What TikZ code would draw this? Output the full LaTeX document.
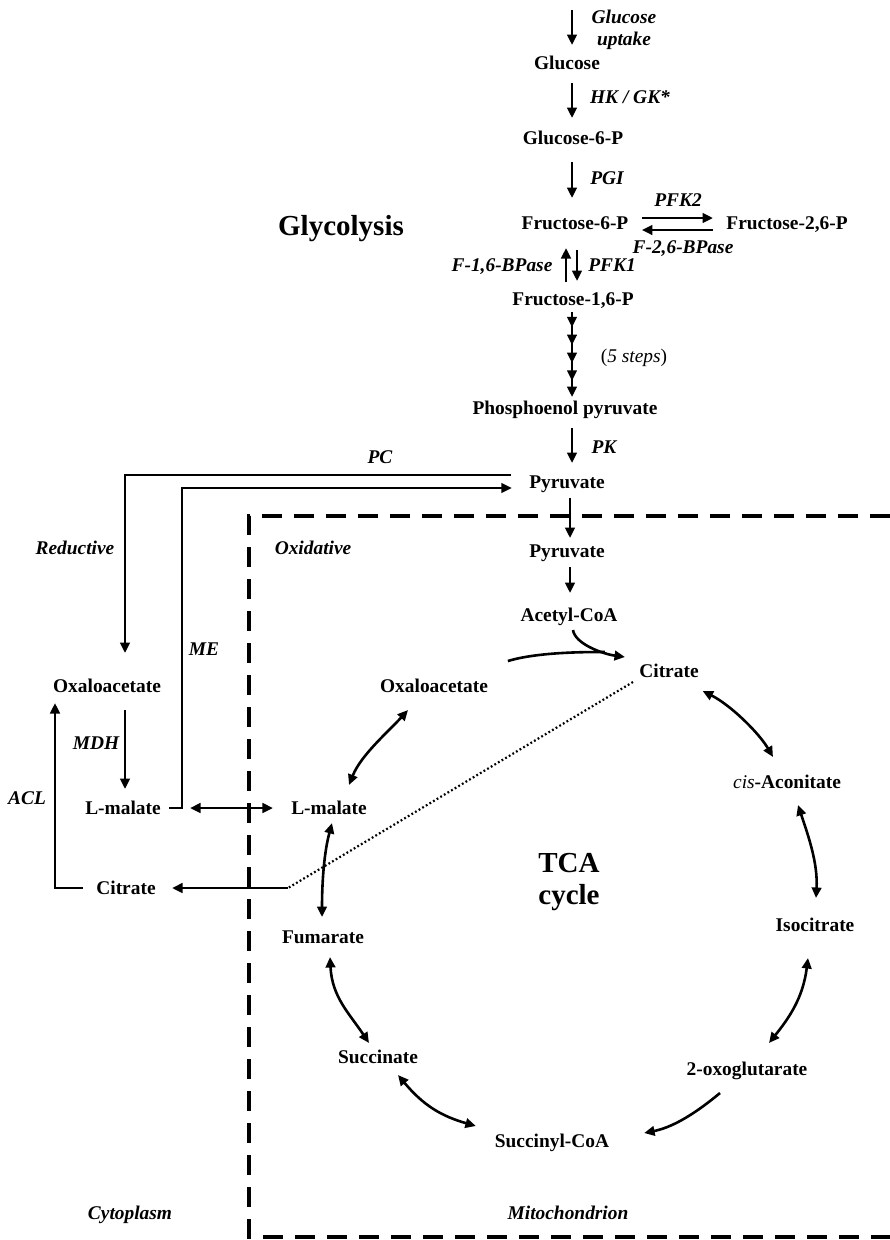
\documentclass[tikz,border=0pt]{standalone}
\usepackage{fontspec}
\setmainfont{Liberation Serif}
\usetikzlibrary{arrows.meta,decorations.markings}
\begin{document}
\begin{tikzpicture}[x=1pt,y=-1pt,
  every node/.style={inner sep=0pt, outer sep=0pt},
  met/.style={font=\fontsize{19.4}{23}\selectfont\bfseries, text height=13pt, text depth=0pt},
  enz/.style={font=\fontsize{19.4}{23}\selectfont\bfseries\itshape, text height=13pt, text depth=0pt},
  plainlbl/.style={font=\fontsize{19.4}{23}\selectfont, text height=13pt, text depth=0pt},
  big/.style={font=\fontsize{29}{31.5}\selectfont\bfseries},
  tip/.style={Triangle[length=10.5pt,width=9.5pt]},
  arr/.style={line width=2.6pt, -{Triangle[length=10.5pt,width=9.5pt]}},
  darr/.style={line width=2.6pt, {Triangle[length=10.5pt,width=9.5pt]}-{Triangle[length=10.5pt,width=9.5pt]}},
  ln/.style={line width=2.6pt},
  membrane/.style={line width=3.2pt, dash pattern=on 20pt off 12pt},
  dotline/.style={line width=2.2pt, dash pattern=on 1.8pt off 2.4pt},
  fivesteps/.style={postaction={decorate}, decoration={markings,
     mark=at position 0.18 with {\arrow{Triangle[length=10.5pt,width=9.5pt]}},
     mark=at position 0.39 with {\arrow{Triangle[length=10.5pt,width=9.5pt]}},
     mark=at position 0.60 with {\arrow{Triangle[length=10.5pt,width=9.5pt]}},
     mark=at position 0.81 with {\arrow{Triangle[length=10.5pt,width=9.5pt]}}}},
]
\fill[white] (0,0) rectangle (890,1240);
\useasboundingbox (0,0) rectangle (890,1240);

% membrane
\draw[membrane] (890,516) -- (249,516) -- (249,1237) -- (890,1237);

% metabolites
\node[met] (glc) at (567,63) {Glucose};
\node[met] (g6p) at (573,138) {Glucose-6-P};
\node[met] (f6p) at (575,223) {Fructose-6-P};
\node[met] (f26p) at (787,223) {Fructose-2,6-P};
\node[met] (f16p) at (573,299) {Fructose-1,6-P};
\node[met] (pep) at (565,408) {Phosphoenol pyruvate};
\node[met] (pyrc) at (567,482) {Pyruvate};
\node[met] (pyrm) at (567,551) {Pyruvate};
\node[met] (acoa) at (569,615) {Acetyl-CoA};
\node[met] (citm) at (669,671) {Citrate};
\node[met] (cis) at (787,782) {\textnormal{\itshape cis}-Aconitate};
\node[met] (iso) at (815,925) {Isocitrate};
\node[met] (oxo) at (747,1069) {2-oxoglutarate};
\node[met] (scoa) at (552,1141) {Succinyl-CoA};
\node[met] (succ) at (378,1057) {Succinate};
\node[met] (fum) at (323,937) {Fumarate};
\node[met] (malm) at (329,808) {L-malate};
\node[met] (oaam) at (434,686) {Oxaloacetate};
\node[met] (oaac) at (107,686) {Oxaloacetate};
\node[met] (malc) at (123,808) {L-malate};
\node[met] (citc) at (126,888) {Citrate};

% labels
\node[font=\fontsize{19.4}{22}\selectfont\bfseries\itshape, align=center] (lupt) at (624,30) {Glucose\\uptake};
\node[enz] (lhk) at (630,97) {HK / GK*};
\node[enz] (lpgi) at (607,178) {PGI};
\node[enz] (lpfk2) at (678,200) {PFK2};
\node[enz] (lbpase2) at (683,247) {F-2,6-BPase};
\node[enz] (lbpase1) at (502,265) {F-1,6-BPase};
\node[enz] (lpfk1) at (612,265) {PFK1};
\node[plainlbl] (lsteps) at (634,356) {(\textit{5 steps})};
\node[enz] (lpk) at (604,447) {PK};
\node[enz] (lpc) at (380,457) {PC};
\node[enz] (lred) at (75,548) {Reductive};
\node[enz] (lox) at (313,548) {Oxidative};
\node[enz] (lme) at (204,649) {ME};
\node[enz] (lmdh) at (96,743) {MDH};
\node[enz] (lacl) at (27,798) {ACL};
\node[enz] (lcyt) at (130,1213) {Cytoplasm};
\node[enz] (lmit) at (568,1213) {Mitochondrion};
\node[big] (lgly) at (341,229) {Glycolysis};
\node[big, align=center] (ltca) at (569,882) {TCA\\cycle};

% glycolysis connectors
\coordinate (axis) at (572,0);
\coordinate (upt) at (572,10);
\draw[arr] (upt) -- ([yshift=11.5pt]glc.north -| axis);
\draw[arr] ([yshift=-13.5pt]glc.south -| axis) -- ([yshift=13.5pt]g6p.north -| axis);
\draw[arr] ([yshift=-17.5pt]g6p.south -| axis) -- ([yshift=18.5pt]f6p.north -| axis);
\draw[arr] ([xshift=13.5pt,yshift=5pt]f6p.east) -- ([xshift=-13.4pt,yshift=5pt]f26p.west);
\draw[arr] ([xshift=-13.4pt,yshift=-7pt]f26p.west) -- ([xshift=13.5pt,yshift=-7pt]f6p.east);
\draw[arr] ([xshift=-6pt,yshift=10.5pt]f16p.north -| axis) -- ([xshift=-6pt,yshift=-18.5pt]f6p.south -| axis);
\draw[arr] ([xshift=5pt,yshift=-20.5pt]f6p.south -| axis) -- ([xshift=5pt,yshift=11.5pt]f16p.north -| axis);
\draw[arr, fivesteps] ([yshift=-6.5pt]f16p.south -| axis) -- ([yshift=4.5pt]pep.north -| axis);
\draw[arr] ([yshift=-13.5pt]pep.south -| axis) -- ([yshift=12.5pt]pyrc.north -| axis);

% PC and ME
\draw[arr] ([xshift=-18.3pt,yshift=7pt]pyrc.west) -| ([xshift=18pt,yshift=26.5pt]oaac.north);
\draw[arr] ([xshift=8.3pt]malc.east) -- ++(13,0) |- ([xshift=-17.5pt,yshift=-6pt]pyrc.west);

% into mitochondrion
\draw[arr] ([xshift=-2pt,yshift=-9.5pt]pyrc.south -| axis) -- ([xshift=-2pt,yshift=6.5pt]pyrm.north -| axis);
\draw[arr] ([xshift=-2pt,yshift=-9.5pt]pyrm.south -| axis) -- ([xshift=-2pt,yshift=15.5pt]acoa.north -| axis);

% citrate synthesis
\draw[arr] ([xshift=4pt,yshift=-8.5pt]acoa.south) .. controls +(2,14) and +(-22,-3) .. ([xshift=-14.4pt,yshift=14pt]citm.west);
\draw[ln] ([xshift=20pt,yshift=25pt]oaam.east) .. controls +(30,-9) and +(-20,0) .. ([xshift=-34.4pt,yshift=19pt]citm.west);

% TCA cycle
\draw[darr] ([xshift=4pt,yshift=-20pt]citm.east) .. controls +(28,14) and +(-14,-24) .. ([xshift=-14pt,yshift=18.5pt]cis.north);
\draw[darr] ([xshift=11pt,yshift=-16.5pt]cis.south) .. controls +(10,30) and +(2,-35) .. ([xshift=1pt,yshift=20.5pt]iso.north);
\draw[darr] ([xshift=-7pt,yshift=-26.5pt]iso.south) .. controls +(-5,40) and +(20,-25) .. ([xshift=22pt,yshift=19.5pt]oxo.north);
\draw[arr] ([xshift=-27pt,yshift=-17.5pt]oxo.south) .. controls +(-30,25) and +(25,-5) .. ([xshift=35pt,yshift=8pt]scoa.east);
\draw[darr] ([xshift=-19pt,yshift=15pt]scoa.west) .. controls +(-35,-10) and +(25,30) .. ([xshift=20pt,yshift=-11.5pt]succ.south);
\draw[darr] ([xshift=-9pt,yshift=7.5pt]succ.north) .. controls +(-20,-30) and +(2,40) .. ([xshift=7pt,yshift=-13.5pt]fum.south);
\draw[darr] ([xshift=-1pt,yshift=13.5pt]fum.north) .. controls +(0,-35) and +(-8,30) .. ([xshift=3pt,yshift=-8.5pt]malm.south);
\draw[darr] ([xshift=20pt,yshift=16.5pt]malm.north) .. controls +(12,-30) and +(-20,22) .. ([xshift=-26pt,yshift=-17.5pt]oaam.south);

% cytoplasmic side
\draw[darr] ([xshift=29.3pt]malc.east) -- ([xshift=-18.3pt]malm.west);
\draw[arr] ([xshift=18pt,yshift=-17.5pt]oaac.south) -- ([xshift=2pt,yshift=12.5pt]malc.north);
\draw[arr] ([xshift=-13.4pt]citc.west) -| ([xshift=-52pt,yshift=-10.5pt]oaac.south);
\coordinate (bend) at (288,888);
\draw[dotline] ([xshift=-6.4pt,yshift=-4.5pt]citm.south west) -- (bend);
\draw[arr] (bend) -- ([xshift=16.4pt]citc.east);
\end{tikzpicture}
\end{document}
